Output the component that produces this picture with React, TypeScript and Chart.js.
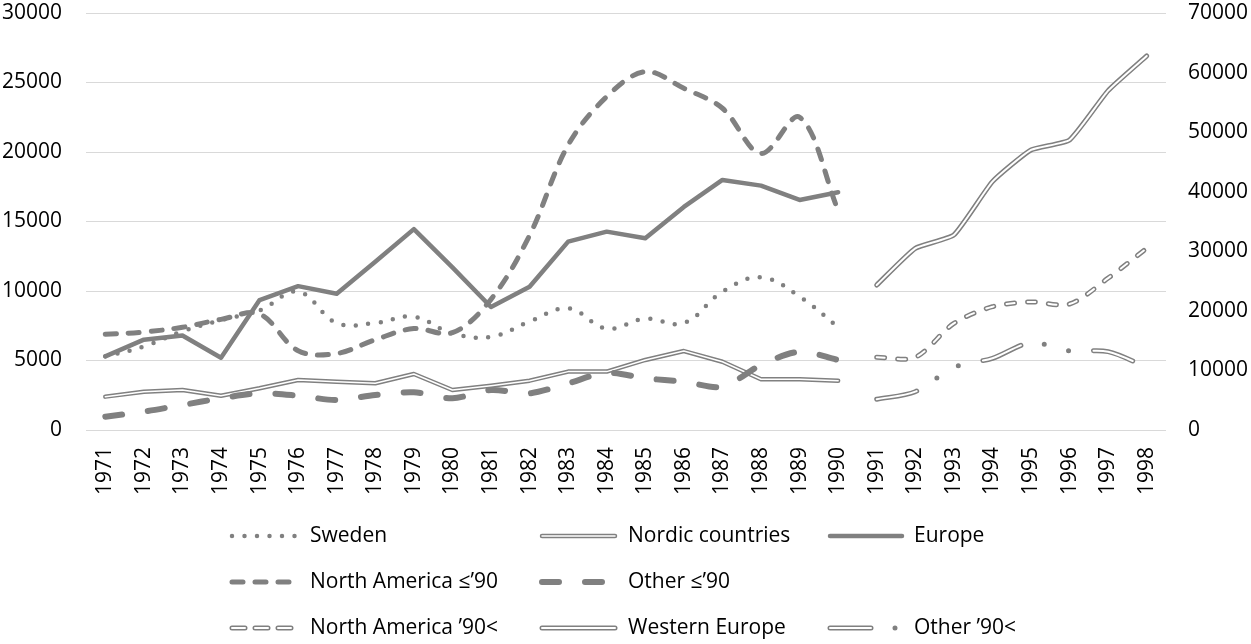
import React, { useEffect, useRef } from 'react';
import { Chart, registerables } from 'chart.js';

Chart.register(...registerables);

// ---------- data ----------
const years = [
  '1971', '1972', '1973', '1974', '1975', '1976', '1977', '1978', '1979', '1980',
  '1981', '1982', '1983', '1984', '1985', '1986', '1987', '1988', '1989', '1990',
  '1991', '1992', '1993', '1994', '1995', '1996', '1997', '1998',
];

// left axis series (1971–1990)
const sweden = [5300, 6000, 7100, 7900, 8600, 9950, 7700, 7700, 8150, 6950, 6700, 7800, 8750, 7300, 8000, 7700, 9950, 10980, 9600, 7400, null, null, null, null, null, null, null, null];
const nordic = [2400, 2750, 2880, 2470, 3000, 3600, 3480, 3360, 4030, 2880, 3190, 3550, 4200, 4200, 5040, 5680, 4910, 3650, 3650, 3550, null, null, null, null, null, null, null, null];
const europe = [5300, 6500, 6800, 5200, 9350, 10350, 9800, 12100, 14450, 11700, 8850, 10300, 13550, 14270, 13790, 16050, 17990, 17580, 16550, 17100, null, null, null, null, null, null, null, null];
const northAmericaPre = [6880, 7050, 7390, 7960, 8340, 5700, 5500, 6500, 7300, 7000, 9400, 14000, 20500, 23980, 25780, 24580, 23150, 19900, 22500, 15800, null, null, null, null, null, null, null, null];
const otherPre = [960, 1320, 1800, 2280, 2640, 2470, 2160, 2520, 2710, 2280, 2880, 2640, 3360, 4120, 3720, 3480, 3120, 4680, 5630, 5040, null, null, null, null, null, null, null, null];

// right axis series (1991–1998)
const northAmericaPost = [null, null, null, null, null, null, null, null, null, null, null, null, null, null, null, null, null, null, null, null, 12200, 12200, 17900, 20700, 21500, 21150, 25500, 30500];
const westernEurope = [null, null, null, null, null, null, null, null, null, null, null, null, null, null, null, null, null, null, null, null, 24340, 30500, 32740, 41690, 47010, 48690, 56970, 62790];
const otherPost = [null, null, null, null, null, null, null, null, null, null, null, null, null, null, null, null, null, null, null, null, 5150, 6430, 10530, 12040, 14660, 13260, 13150, 10530];

const leftTicks = [0, 5000, 10000, 15000, 20000, 25000, 30000];
const rightTicks = [0, 10000, 20000, 30000, 40000, 50000, 60000, 70000];

const labels = [
  'Sweden', 'Nordic countries', 'Europe', 'North America ≤’90', 'Other ≤’90',
  'North America ’90<', 'Western Europe', 'Other ’90<',
];
const values = [sweden, nordic, europe, northAmericaPre, otherPre, northAmericaPost, westernEurope, otherPost];

// ---------- styles ----------
const GRAY = '#808080';
const FONT = '"Open Sans", sans-serif';

type Style = {
  axis: string; width: number; dash: number[]; core?: number; coreDash?: number[];
  legendDash?: number[]; tension: number;
};
const styles: Style[] = [
  { axis: 'y', width: 4.5, dash: [0, 12.5], tension: 0.4 },
  { axis: 'y', width: 4.5, core: 1.5, dash: [], tension: 0 },
  { axis: 'y', width: 4.5, dash: [], tension: 0 },
  { axis: 'y', width: 5, dash: [11, 12], tension: 0.35 },
  { axis: 'y', width: 6, dash: [17, 26], tension: 0.3 },
  { axis: 'y1', width: 5, core: 2, dash: [8, 13], legendDash: [13, 10], tension: 0.3 },
  { axis: 'y1', width: 5, core: 2, dash: [], tension: 0.15 },
  { axis: 'y1', width: 5, core: 2, dash: [41, 24, 0, 25, 0, 25], coreDash: [41, 74], tension: 0.3 },
];

// legend placement: [series index, column, row]
const legendSlots = [[0, 0, 0], [1, 1, 0], [2, 2, 0], [3, 0, 1], [4, 1, 1], [5, 0, 2], [6, 1, 2], [7, 2, 2]];
const colSampleStart = [232, 542, 830];
const colSampleEnd = [298, 615, 902];
const colText = [310, 628, 914];
const rowY = [536, 582, 628];

const legendPlugin = {
  id: 'customLegend',
  afterDraw(chart: any) {
    const ctx = chart.ctx as CanvasRenderingContext2D;
    legendSlots.forEach(([i, c, r]) => {
      const st = styles[i];
      const y = rowY[r];
      const dash = st.legendDash || st.dash;
      ctx.save();
      ctx.lineCap = 'round';
      ctx.lineJoin = 'round';
      ctx.strokeStyle = GRAY;
      ctx.lineWidth = st.width;
      ctx.setLineDash(dash);
      ctx.beginPath();
      ctx.moveTo(colSampleStart[c], y);
      ctx.lineTo(colSampleEnd[c], y);
      ctx.stroke();
      if (st.core) {
        ctx.strokeStyle = '#ffffff';
        ctx.lineWidth = st.core;
        ctx.setLineDash(st.coreDash || dash);
        ctx.beginPath();
        ctx.moveTo(colSampleStart[c], y);
        ctx.lineTo(colSampleEnd[c], y);
        ctx.stroke();
      }
      ctx.setLineDash([]);
      ctx.fillStyle = '#000000';
      ctx.font = `21px ${FONT}`;
      ctx.textBaseline = 'middle';
      ctx.textAlign = 'left';
      ctx.fillText(labels[i], colText[c], y);
      ctx.restore();
    });
  },
};

export default function App() {
  const ref = useRef<HTMLCanvasElement | null>(null);

  useEffect(() => {
    document.body.style.margin = '0';
    const canvas = ref.current;
    if (!canvas) return;

    const datasets: any[] = [];
    values.forEach((data, k) => {
      const st = styles[k];
      datasets.push({
        label: labels[k],
        data,
        yAxisID: st.axis,
        borderColor: GRAY,
        backgroundColor: GRAY,
        borderWidth: st.width,
        borderDash: st.dash,
        borderCapStyle: 'round',
        borderJoinStyle: 'round',
        tension: st.tension,
        pointRadius: 0,
        pointHoverRadius: 0,
        fill: false,
        spanGaps: false,
        order: 1000 - 10 * k,
      });
      if (st.core) {
        datasets.push({
          label: labels[k] + ' core',
          data,
          yAxisID: st.axis,
          borderColor: '#ffffff',
          backgroundColor: '#ffffff',
          borderWidth: st.core,
          borderDash: st.coreDash || st.dash,
          borderCapStyle: 'round',
          borderJoinStyle: 'round',
          tension: st.tension,
          pointRadius: 0,
          pointHoverRadius: 0,
          fill: false,
          spanGaps: false,
          order: 1000 - 10 * k - 1,
        });
      }
    });

    const tickFont = { family: FONT, size: 21 };
    const zeroPad = (s: any) => {
      s.paddingTop = 0; s.paddingBottom = 0; s.paddingLeft = 0; s.paddingRight = 0;
    };

    const chart = new Chart(canvas, {
      type: 'line',
      data: { labels: years, datasets },
      options: {
        animation: false,
        responsive: false,
        devicePixelRatio: 1,
        layout: { padding: { top: 13, left: 0, right: 0, bottom: 0 } },
        plugins: { legend: { display: false }, tooltip: { enabled: false } },
        scales: {
          x: {
            type: 'category',
            offset: true,
            grid: { display: false, drawTicks: false, offset: true },
            border: { display: false },
            ticks: {
              autoSkip: false, minRotation: 90, maxRotation: 90, padding: 17,
              color: '#000000', font: tickFont,
            },
            afterFit: (s: any) => { s.height = 214; zeroPad(s); },
          },
          y: {
            position: 'left',
            min: 0, max: 30000,
            afterBuildTicks: (s: any) => { s.ticks = leftTicks.map((v) => ({ value: v })); },
            grid: { color: '#d9d9d9', lineWidth: 1, drawTicks: false },
            border: { display: false },
            ticks: { padding: 24, color: '#000000', font: tickFont, callback: (v: any) => String(v) },
            afterFit: (s: any) => { s.width = 86; zeroPad(s); },
          },
          y1: {
            position: 'right',
            min: 0, max: 70000,
            afterBuildTicks: (s: any) => { s.ticks = rightTicks.map((v) => ({ value: v })); },
            grid: { drawOnChartArea: false, drawTicks: false },
            border: { display: false },
            ticks: { padding: 22, color: '#000000', font: tickFont, callback: (v: any) => String(v) },
            afterFit: (s: any) => { s.width = 85; zeroPad(s); },
          },
        },
      },
      plugins: [legendPlugin],
    });

    return () => { chart.destroy(); };
  }, []);

  return (
    <div style={{ width: 1251, height: 644, background: '#ffffff' }}>
      <canvas ref={ref} width={1251} height={644} style={{ display: 'block', width: 1251, height: 644 }} />
    </div>
  );
}
